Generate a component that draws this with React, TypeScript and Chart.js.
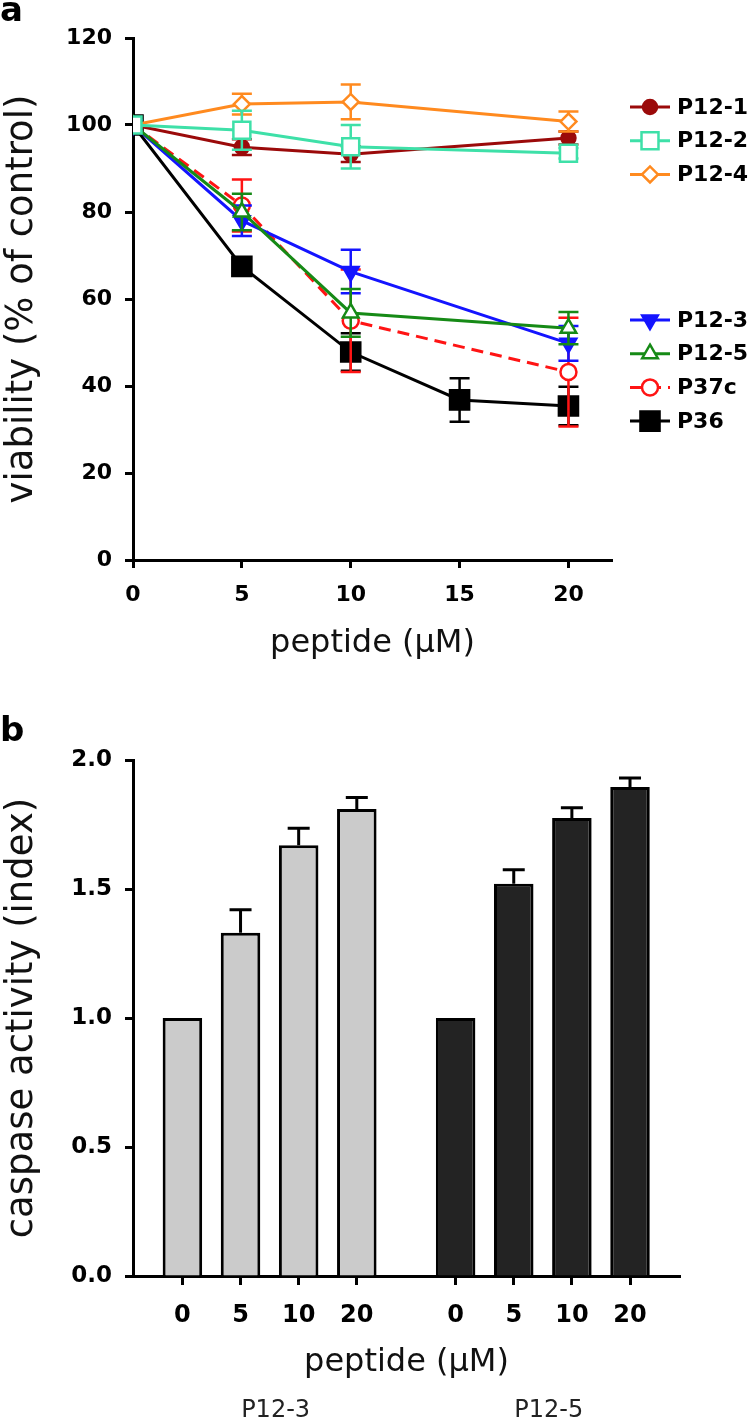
import React, { useEffect, useRef } from "react";
import { Chart, registerables } from "chart.js";
import { drawPoint } from "chart.js/helpers";

Chart.register(...registerables);

const FONT = "'DejaVu Sans', 'Liberation Sans', sans-serif";

// ---------- Panel a: viability ----------
const dosesA = [0, 5, 10, 20];
const dosesP36 = [0, 5, 10, 15, 20];

const p12_1 = [100, 94.9, 93.3, 97.0];
const p12_1Err = [0, 1.8, 1.8, 1.5];
const p12_2 = [100, 98.8, 95.0, 93.5];
const p12_2Err = [0, 4.5, 5.0, 1.2];
const p12_4 = [100, 104.8, 105.3, 100.8];
const p12_4Err = [0, 2.4, 4.0, 2.3];
const p12_3 = [100, 78.0, 66.3, 49.8];
const p12_3Err = [0, 3.5, 5.0, 4.0];
const p12_5 = [100, 80.0, 56.8, 53.3];
const p12_5Err = [0, 4.2, 5.5, 3.7];
const p37c = [100, 81.5, 55.0, 43.2];
const p37cErr = [0, 6.0, 11.8, 12.5];
const p36 = [100, 67.5, 47.8, 36.8, 35.4];
const p36Err = [0, 1.5, 4.3, 5.0, 4.4];

// ---------- Panel b: caspase ----------
const dosesB = ["0", "5", "10", "20"];
const groupsB = ["P12-3", "P12-5"];
const caspP12_3 = [1.0, 1.33, 1.67, 1.81];
const caspP12_3Err = [0, 0.09, 0.065, 0.045];
const caspP12_5 = [1.0, 1.52, 1.775, 1.895];
const caspP12_5Err = [0, 0.055, 0.04, 0.035];

// layout constants
const SLOT_OFFSET = 0.85;
const GROUP_STRIDE = 4.7;
const slotPos = (g: number, i: number) => SLOT_OFFSET + g * GROUP_STRIDE + i;

const pts = (xs: number[], ys: number[]) => ys.map((y, i) => ({ x: xs[i], y }));

function drawErrorBars(chart: any, meta: any, ds: any, upOnly: boolean) {
  const ctx = chart.ctx;
  const ys = chart.scales.y;
  const cap = ds.errorCap || 10;
  ctx.save();
  ctx.strokeStyle = ds.errorColor || ds.borderColor;
  ctx.lineWidth = ds.errorWidth || 2.5;
  ctx.setLineDash([]);
  meta.data.forEach((el: any, i: number) => {
    const e = ds.errors[i];
    if (!e) return;
    const v = ds.data[i].y;
    const x = el.x;
    const yTop = ys.getPixelForValue(v + e);
    const yBot = upOnly ? el.y : ys.getPixelForValue(v - e);
    ctx.beginPath();
    ctx.moveTo(x, yTop);
    ctx.lineTo(x, yBot);
    ctx.moveTo(x - cap, yTop);
    ctx.lineTo(x + cap, yTop);
    if (!upOnly) {
      ctx.moveTo(x - cap, yBot);
      ctx.lineTo(x + cap, yBot);
    }
    ctx.stroke();
  });
  ctx.restore();
}

const errorBarPlugin = {
  id: "errorBars",
  beforeDatasetDraw(chart: any, args: any) {
    const ds = chart.data.datasets[args.index];
    if (!ds.errors || chart.config.type === "bar") return;
    drawErrorBars(chart, args.meta, ds, false);
  },
  afterDatasetDraw(chart: any, args: any) {
    const ds = chart.data.datasets[args.index];
    if (!ds.errors || chart.config.type !== "bar") return;
    drawErrorBars(chart, args.meta, ds, true);
  },
};

const LEGEND_LINE_X0 = 630;
const LEGEND_LINE_X1 = 670;
const LEGEND_TEXT_X = 677;
const LEGEND_GROUP_TOPS = [107, 320];
const LEGEND_STEP = 33.7;
const LEGEND_GROUP_OF = [0, 0, 0, 1, 1, 1, 1];

const sideLegendPlugin = {
  id: "sideLegend",
  afterDraw(chart: any) {
    const ctx = chart.ctx;
    const counters = [0, 0];
    chart.data.datasets.forEach((d: any, i: number) => {
      const g = LEGEND_GROUP_OF[i];
      const y = LEGEND_GROUP_TOPS[g] + counters[g] * LEGEND_STEP;
      counters[g]++;
      const cx = (LEGEND_LINE_X0 + LEGEND_LINE_X1) / 2;
      ctx.save();
      ctx.strokeStyle = d.borderColor;
      ctx.lineWidth = d.borderWidth;
      ctx.setLineDash(d.borderDash || []);
      ctx.beginPath();
      ctx.moveTo(LEGEND_LINE_X0, y);
      ctx.lineTo(LEGEND_LINE_X1, y);
      ctx.stroke();
      ctx.setLineDash([]);
      ctx.fillStyle = d.pointBackgroundColor;
      ctx.strokeStyle = d.borderColor;
      ctx.lineWidth = d.pointBorderWidth;
      drawPoint(ctx, {
        pointStyle: d.pointStyle,
        rotation: d.pointRotation || 0,
        radius: d.pointRadius,
        borderWidth: d.pointBorderWidth,
      } as any, cx, y);
      ctx.fillStyle = "#000";
      ctx.font = `bold 22px ${FONT}`;
      ctx.textAlign = "left";
      ctx.textBaseline = "middle";
      ctx.fillText(d.label, LEGEND_TEXT_X, y + 1);
      ctx.restore();
    });
  },
};

const GROUP_LABEL_DY = 141;
const groupLabelPlugin = {
  id: "groupLabels",
  afterDraw(chart: any) {
    const ctx = chart.ctx;
    const xs = chart.scales.x;
    ctx.save();
    ctx.fillStyle = "#222";
    ctx.font = `24px ${FONT}`;
    ctx.textAlign = "center";
    ctx.textBaseline = "alphabetic";
    groupsB.forEach((name, g) => {
      const a = xs.getPixelForValue(slotPos(g, 0));
      const b = xs.getPixelForValue(slotPos(g, dosesB.length - 1));
      ctx.fillText(name, (a + b) / 2 + 6, chart.chartArea.bottom + GROUP_LABEL_DY);
    });
    ctx.restore();
  },
};

function lineDs(label: string, xs: number[], ys: number[], errs: number[], color: string, style: string, radius: number, fill: string, extra: any = {}) {
  return {
    label,
    data: pts(xs, ys),
    errors: errs,
    borderColor: color,
    borderWidth: 3,
    pointStyle: style,
    pointRadius: radius,
    pointHoverRadius: radius,
    pointBackgroundColor: fill,
    pointBorderColor: color,
    pointBorderWidth: 2.5,
    tension: 0,
    fill: false,
    errorCap: 10,
    errorWidth: 2.5,
    ...extra,
  };
}

const axisCommon = (size: number) => ({
  border: { display: true, color: "#000", width: 3 },
  grid: { display: true, drawOnChartArea: false, drawTicks: true, tickLength: 8, tickWidth: 3, tickColor: "#000" },
  ticks: { color: "#000", font: { family: FONT, size, weight: "bold" as const } },
});

export default function App() {
  const refA = useRef<HTMLCanvasElement>(null);
  const refB = useRef<HTMLCanvasElement>(null);

  useEffect(() => {
    const cA = new Chart(refA.current!, {
      type: "line",
      data: {
        datasets: [
          lineDs("P12-1", dosesA, p12_1, p12_1Err, "#9b0a0a", "circle", 7, "#9b0a0a", { order: 2 }),
          lineDs("P12-2", dosesA, p12_2, p12_2Err, "#3ee0a8", "rect", 12, "#ffffff", { order: 0 }),
          lineDs("P12-4", dosesA, p12_4, p12_4Err, "#ff8a1f", "rectRot", 8, "#ffffff", { order: 1 }),
          lineDs("P12-3", dosesA, p12_3, p12_3Err, "#1414ff", "triangle", 9, "#1414ff", { order: 4, pointRotation: 180 }),
          lineDs("P12-5", dosesA, p12_5, p12_5Err, "#168a16", "triangle", 9, "#ffffff", { order: 3 }),
          lineDs("P37c", dosesA, p37c, p37cErr, "#ff1414", "circle", 8, "#ffffff", { order: 5, borderDash: [12, 7] }),
          lineDs("P36", dosesP36, p36, p36Err, "#000000", "rect", 13.5, "#000000", { order: 6 }),
        ] as any,
      },
      options: {
        responsive: false,
        animation: false,
        layout: { padding: { top: 38, right: 144, left: 0, bottom: 0 } },
        plugins: { legend: { display: false }, tooltip: { enabled: false } },
        scales: {
          x: {
            type: "linear",
            min: 0,
            max: 22,
            offset: false,
            ...axisCommon(22),
            ticks: { ...axisCommon(22).ticks, stepSize: 5, includeBounds: false, padding: 14, maxRotation: 0 },
            title: { display: true, text: "peptide (µM)", color: "#111", font: { family: FONT, size: 32 }, padding: { top: 0, bottom: 37 } },
            afterFit: (s: any) => { s.height = 140; },
          },
          y: {
            min: 0,
            max: 120,
            ...axisCommon(22),
            ticks: { ...axisCommon(22).ticks, stepSize: 20, padding: 13 },
            title: { display: true, text: "viability (% of control)", color: "#111", font: { family: FONT, size: 37 }, padding: { top: 0, bottom: 0 } },
            afterFit: (s: any) => { s.width = 133; },
          },
        },
      } as any,
      plugins: [errorBarPlugin, sideLegendPlugin],
    });

    const cB = new Chart(refB.current!, {
      type: "bar",
      data: {
        datasets: [
          {
            label: groupsB[0],
            data: caspP12_3.map((v, i) => ({ x: slotPos(0, i), y: v })),
            errors: caspP12_3Err,
            backgroundColor: "#cbcbcb",
            borderColor: "#000",
            borderWidth: 3,
            grouped: false,
            barPercentage: 0.68,
            categoryPercentage: 1,
            errorCap: 11,
            errorWidth: 3,
          },
          {
            label: groupsB[1],
            data: caspP12_5.map((v, i) => ({ x: slotPos(1, i), y: v })),
            errors: caspP12_5Err,
            backgroundColor: "#232323",
            borderColor: "#000",
            borderWidth: 3,
            grouped: false,
            barPercentage: 0.68,
            categoryPercentage: 1,
            errorCap: 11,
            errorWidth: 3,
          },
        ] as any,
      },
      options: {
        responsive: false,
        animation: false,
        layout: { padding: { top: 60, right: 76, left: 0, bottom: 0 } },
        plugins: { legend: { display: false }, tooltip: { enabled: false } },
        scales: {
          x: {
            type: "linear",
            min: 0,
            max: 9.41,
            offset: false,
            ...axisCommon(24),
            grid: { ...axisCommon(24).grid, tickLength: 9, offset: false },
            ticks: {
              ...axisCommon(24).ticks,
              padding: 16,
              maxRotation: 0,
              autoSkip: false,
              callback: (_v: any, i: number) => dosesB[i % dosesB.length],
            },
            afterBuildTicks: (s: any) => {
              const t: any[] = [];
              groupsB.forEach((_g, g) => dosesB.forEach((_d, i) => t.push({ value: slotPos(g, i) })));
              s.ticks = t;
            },
            title: { display: true, text: "peptide (µM)", color: "#111", font: { family: FONT, size: 32 }, padding: { top: 0, bottom: 37 } },
            afterFit: (s: any) => { s.height = 143; },
          },
          y: {
            min: 0,
            max: 2,
            ...axisCommon(23),
            ticks: { ...axisCommon(23).ticks, stepSize: 0.5, padding: 13, callback: (v: any) => Number(v).toFixed(1) },
            title: { display: true, text: "caspase activity (index)", color: "#111", font: { family: FONT, size: 37 }, padding: { top: 0, bottom: 0 } },
            afterFit: (s: any) => { s.width = 133; },
          },
        },
      } as any,
      plugins: [errorBarPlugin, groupLabelPlugin],
    });

    return () => {
      cA.destroy();
      cB.destroy();
    };
  }, []);

  return (
    <div style={{ position: "absolute", left: 0, top: 0, width: 756, height: 1419, background: "#fff", overflow: "hidden" }}>
      <canvas ref={refA} width={756} height={700} style={{ position: "absolute", left: 0, top: 0, display: "block" }} />
      <canvas ref={refB} width={756} height={719} style={{ position: "absolute", left: 0, top: 700, display: "block" }} />
      <div style={{ position: "absolute", left: 0, top: -8, font: `bold 34px ${FONT}`, lineHeight: 1, color: "#000" }}>a</div>
      <div style={{ position: "absolute", left: 0, top: 712, font: `bold 34px ${FONT}`, lineHeight: 1, color: "#000" }}>b</div>
    </div>
  );
}
